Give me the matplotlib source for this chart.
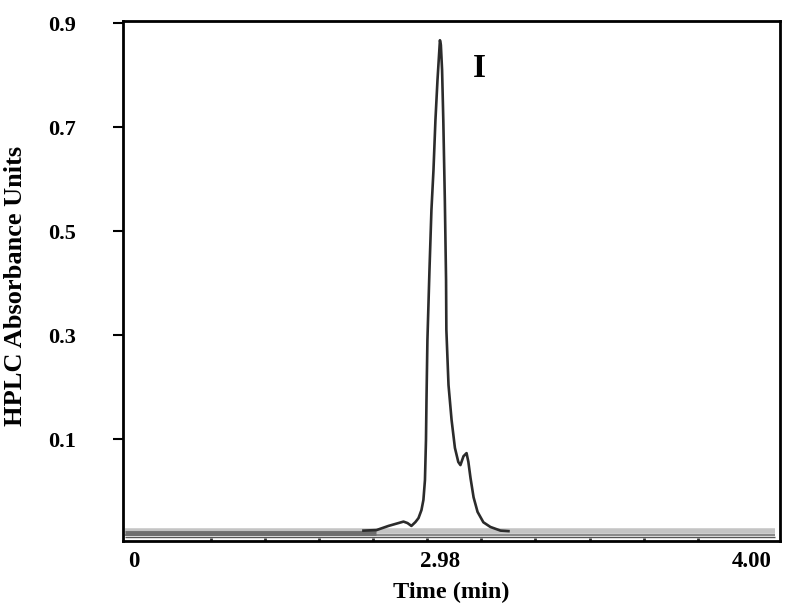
import numpy as np
import matplotlib.pyplot as plt

plt.rcParams['font.family'] = ['Liberation Serif', 'DejaVu Serif']
plt.rcParams['font.weight'] = 'bold'

# main trace (time in min, absorbance)
time = [2.235, 2.362, 2.479, 2.576, 2.625, 2.664, 2.702, 2.741, 2.771, 2.800,
        2.819, 2.834, 2.844, 2.849, 2.858, 2.878, 2.897, 2.917, 2.936, 2.956,
        2.980, 2.983, 2.987, 2.991, 2.996, 3.000, 3.001, 3.008, 3.018, 3.029,
        3.040, 3.047, 3.057, 3.067, 3.073, 3.080, 3.090, 3.103, 3.122, 3.145,
        3.178, 3.204]
absorb = [-0.076, -0.075, -0.067, -0.0615, -0.0587, -0.0615, -0.067, -0.0596, -0.052, -0.0365,
          -0.017, 0.021, 0.098, 0.175, 0.290, 0.425, 0.540, 0.617, 0.713, 0.790,
          0.867, 0.858, 0.810, 0.713, 0.560, 0.406, 0.310, 0.204, 0.137, 0.083,
          0.056, 0.050, 0.067, 0.073, 0.056, 0.025, -0.012, -0.040, -0.060, -0.069,
          -0.076, -0.077]

# overlaid baselines of other runs
base_full_t = [-0.09, 4.075]
base_light = [-0.0765, -0.0765]
base_mid = [-0.0835, -0.0835]
base_dark = [-0.088, -0.088]
base_left_t = [-0.09, 2.36]
base_left = [-0.0805, -0.0805]

ytick_vals = [0.1, 0.3, 0.5, 0.7, 0.9]
xtick_vals = [0, 2.98, 4.00]
xtick_labels = ['0', '2.98', '4.00']
xminor_vals = [0.750, 1.276, 1.801, 2.327, 2.853, 3.114, 3.291, 3.470, 3.647, 3.823, 4.000]

# piecewise time axis, as in the original figure
def fwd(t):
    t = np.asarray(t, dtype=float)
    return np.where(t <= 2.98, t * 102.7, 2.98 * 102.7 + (t - 2.98) * 305.9)

def inv(p):
    p = np.asarray(p, dtype=float)
    k = 2.98 * 102.7
    return np.where(p <= k, p / 102.7, 2.98 + (p - k) / 305.9)

fig = plt.figure(figsize=(7.86, 6.14), dpi=100)
ax = fig.add_axes([123/786, 73/614, 657/786, 520/614])
ax.set_xscale('function', functions=(fwd, inv))

ax.plot(base_full_t, base_light, color='#c4c4c4', lw=4, solid_capstyle='butt')
ax.plot(base_full_t, base_mid, color='#8a8a8a', lw=1.5, solid_capstyle='butt')
ax.plot(base_full_t, base_dark, color='#555555', lw=1.0, solid_capstyle='butt')
ax.plot(base_left_t, base_left, color='#6e6e6e', lw=3.5, solid_capstyle='butt')
ax.plot(time, absorb, color='#2b2b2b', lw=1.9)

ax.set_xlim(-0.107, 4.092)
ax.set_ylim(-0.096, 0.904)

ax.set_yticks(ytick_vals)
ax.set_yticklabels([f'{v:.1f}' for v in ytick_vals])
ax.tick_params(axis='y', length=7, width=1.5, pad=27, labelsize=16)

ax.set_xticks(xtick_vals)
ax.set_xticklabels(xtick_labels)
ax.set_xticks(xminor_vals, minor=True)
ax.tick_params(axis='x', which='major', length=0, pad=7, labelsize=16.5)
ax.tick_params(axis='x', which='minor', direction='in', length=2.5, width=2, color='#333333')

for s in ax.spines.values():
    s.set_linewidth(2)

ax.set_xlabel('Time (min)', fontsize=17.5, fontweight='bold')
ax.xaxis.set_label_coords(0.5, -0.079)
ax.set_ylabel('HPLC Absorbance Units', fontsize=19, fontweight='bold')
ax.yaxis.set_label_coords(-0.146, 0.49)

ax.text(3.11, 0.813, 'I', fontsize=24, fontweight='bold', ha='center', va='center')

fig.savefig('out.png', dpi=100)
